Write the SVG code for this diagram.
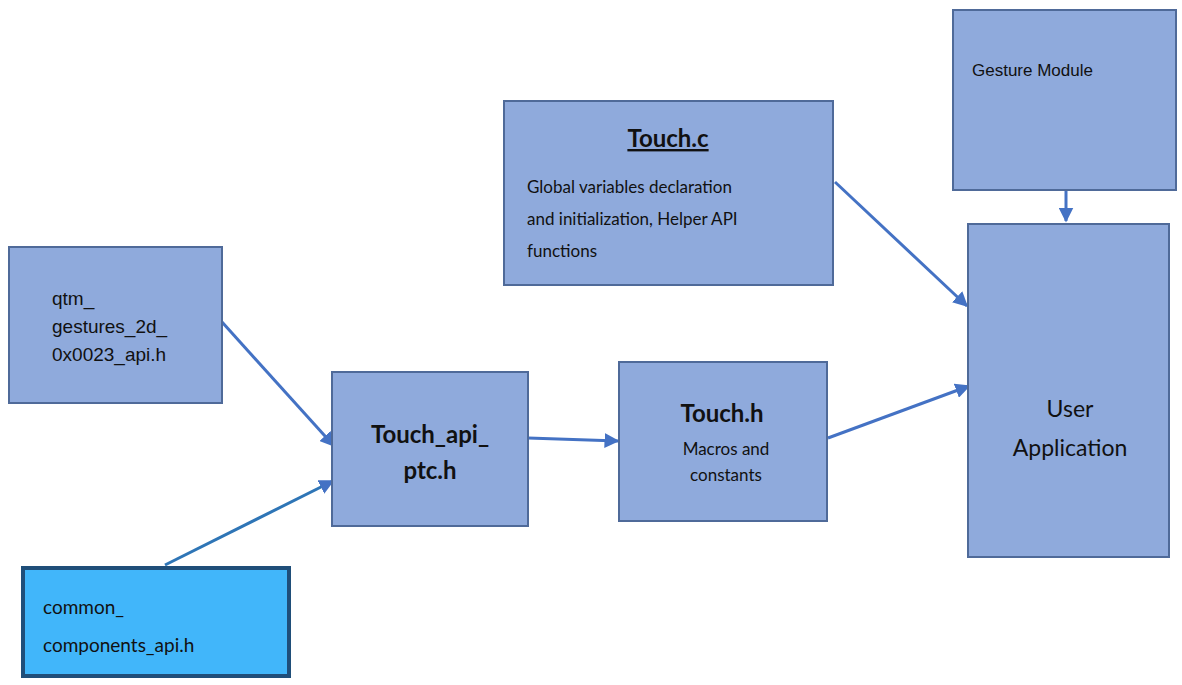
<svg xmlns="http://www.w3.org/2000/svg" width="1182" height="685" viewBox="0 0 1182 685">
<defs>
<style>
.box{fill:#8faadc;stroke:#4f6a99;stroke-width:2}
.cal{font-family:Lato,"Open Sans",sans-serif;fill:#111}
.ar{font-family:"Liberation Sans",Arial,sans-serif;fill:#111}
.c{stroke:#4472c4;stroke-width:3;fill:none;marker-end:url(#ah)}
</style>
<marker id="ah" viewBox="0 0 10 10" refX="9" refY="5" markerWidth="5" markerHeight="5" orient="auto" markerUnits="strokeWidth"><path d="M0,0 L10,5 L0,10 z" fill="#4472c4"/></marker>
</defs>
<rect width="1182" height="685" fill="#fff"/>
<g id="connectors">
<line class="c" x1="222" y1="322" x2="334" y2="446"/>
<line class="c" x1="165" y1="565" x2="333" y2="481" style="stroke:#2e75b6"/>
<line class="c" x1="528" y1="438" x2="618" y2="441"/>
<line class="c" x1="835" y1="182" x2="967" y2="306"/>
<line class="c" x1="828" y1="438" x2="969" y2="386"/>
<line class="c" x1="1066" y1="190" x2="1066" y2="221"/>
</g>
<g id="qtm"><rect class="box" x="9" y="247" width="213" height="156"/>
<text class="ar" font-size="19"><tspan x="52" y="305">qtm_</tspan><tspan x="52" y="333">gestures_2d_</tspan><tspan x="52" y="361">0x0023_api.h</tspan></text></g>
<g id="ptc"><rect class="box" x="332" y="372" width="196" height="154"/>
<text class="cal" font-size="24" font-weight="bold" text-anchor="middle"><tspan x="430" y="443">Touch_api_</tspan><tspan x="430" y="479">ptc.h</tspan></text></g>
<g id="common"><rect x="23" y="568" width="266" height="108" fill="#41b6fa" stroke="#1f4e79" stroke-width="4"/>
<text class="cal" font-size="19"><tspan x="43" y="614">common_</tspan><tspan x="43" y="652">components_api.h</tspan></text></g>
<g id="touchc"><rect class="box" x="504" y="101" width="329" height="184"/>
<text class="cal" font-size="24" font-weight="bold" text-anchor="middle" text-decoration="underline" x="668" y="147">Touch.c</text>
<text class="cal" font-size="17"><tspan x="527" y="193">Global variables declaration</tspan><tspan x="527" y="225">and initialization, Helper API</tspan><tspan x="527" y="257">functions</tspan></text></g>
<g id="gesture"><rect class="box" x="953" y="10" width="223" height="180"/>
<text class="ar" font-size="17" x="972" y="76">Gesture Module</text></g>
<g id="touchh"><rect class="box" x="619" y="362" width="208" height="159"/>
<text class="cal" font-size="24" font-weight="bold" text-anchor="middle" x="722" y="422">Touch.h</text>
<text class="cal" font-size="17" text-anchor="middle"><tspan x="726" y="455">Macros and</tspan><tspan x="726" y="481">constants</tspan></text>
</g>
<g id="userapp"><rect class="box" x="968" y="224" width="201" height="333"/>
<text class="cal" font-size="23" text-anchor="middle"><tspan x="1070" y="417">User</tspan><tspan x="1070" y="456">Application</tspan></text></g>
</svg>
